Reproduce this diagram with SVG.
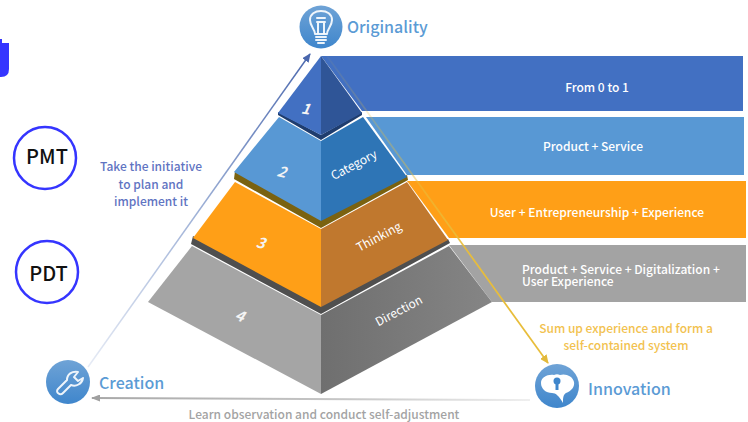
<svg xmlns="http://www.w3.org/2000/svg" width="748" height="422" viewBox="0 0 748 422">
<style>
text{font-family:"Noto Sans CJK SC","Noto Sans","Liberation Sans",sans-serif}
.bar{fill:#fff;font-size:12px;font-weight:500}
.mid{text-anchor:middle}
.head{fill:#5b9bd5;font-size:16px;font-weight:500}
.face{fill:#fff;font-size:12px}
.num{fill:#f4f4f4;font-size:15px;font-weight:700;font-style:italic;text-anchor:middle}
.ring{fill:#fff;stroke:#3535ff;stroke-width:2.5}
.tag{fill:#111;font-size:20px;font-weight:500;text-anchor:middle}
.ico{fill:none;stroke:#fff;stroke-width:2;stroke-linecap:round;stroke-linejoin:round;opacity:.9}
</style>
<defs>
<linearGradient id="bg" x1="0" y1="0" x2="0" y2="1"><stop offset="0" stop-color="#6fa3d6"/><stop offset="1" stop-color="#3f86cc"/></linearGradient>
<linearGradient id="g4" x1="0" y1="0" x2="1" y2="0"><stop offset="0" stop-color="#6f6f6f"/><stop offset="1" stop-color="#858585"/></linearGradient>
<linearGradient id="lb" gradientUnits="userSpaceOnUse" x1="88" y1="367" x2="310" y2="54"><stop offset="0" stop-color="#e6ebf5"/><stop offset=".5" stop-color="#9db0d6"/><stop offset="1" stop-color="#4a67ad"/></linearGradient>
<linearGradient id="lg" gradientUnits="userSpaceOnUse" x1="92" y1="398" x2="530" y2="400"><stop offset="0" stop-color="#a8a8a8"/><stop offset=".6" stop-color="#c8c8c8"/><stop offset="1" stop-color="#efefef"/></linearGradient>
<linearGradient id="ly" gradientUnits="userSpaceOnUse" x1="327" y1="56" x2="548" y2="363"><stop offset="0" stop-color="#e8bd3a" stop-opacity=".05"/><stop offset=".4" stop-color="#e8bd3a" stop-opacity=".45"/><stop offset=".65" stop-color="#e8bd3a"/><stop offset="1" stop-color="#e8bd3a"/></linearGradient>
<marker id="mb" markerUnits="userSpaceOnUse" markerWidth="9" markerHeight="8" refX="8" refY="4" orient="auto"><path d="M0 0L9 4L0 8Z" fill="#4a67ad"/></marker>
<marker id="my" markerUnits="userSpaceOnUse" markerWidth="9" markerHeight="8" refX="8" refY="4" orient="auto"><path d="M0 0L9 4L0 8Z" fill="#e2b93b"/></marker>
<marker id="mg" markerUnits="userSpaceOnUse" markerWidth="9" markerHeight="7" refX="8" refY="3.500" orient="auto"><path d="M0 0L9 3.500L0 7Z" fill="#a0a0a0"/></marker>
</defs>
<path id="corner" d="M0 39H2V43H9V69Q9 77 1 77H0Z" fill="#3535ff"/>

<g id="band-1"><path d="M321 56H743V111H362Z" fill="#4270c2"/><text class="bar mid" x="597" y="92">From 0 to 1</text></g>
<g id="band-2"><path d="M366 117H744V175H407Z" fill="#5898d4"/><text class="bar mid" x="593" y="151">Product + Service</text></g>
<g id="band-3"><path d="M407 181H746V238H449Z" fill="#ff9f17"/><text class="bar mid" x="597" y="217">User + Entrepreneurship + Experience</text></g>
<g id="band-4"><path d="M449 245H746V302H492Z" fill="#a3a3a3"/><text class="bar" x="522" y="273.500">Product + Service + Digitalization +</text><text class="bar" x="522" y="286">User Experience</text></g>

<g id="tier-4">
<path d="M192 246L321 315V394L148 302Z" fill="#a5a5a5"/>
<path d="M449 246L321 315V394L492 302Z" fill="url(#g4)"/>
<path d="M191 244L321 314L450 243L448 239L321 305L193 236Z" fill="#4f4f4f"/>
<text class="num" x="240" y="321" transform="rotate(20 240 316)">4</text>
<text class="face mid" x="399" y="315" transform="rotate(-28 399 311)">Direction</text>
</g>
<g id="tier-3">
<path d="M235 182L321 229V307L193 238Z" fill="#ff9f17"/>
<path d="M407 182L321 229V307L448 240Z" fill="#c0782e"/>
<path d="M234 179L321 228L408 180L407 175L321 219L235 171Z" fill="#7a6210"/>
<text class="num" x="261" y="248" transform="rotate(15 261 242)">3</text>
<text class="face mid" x="379" y="241" transform="rotate(-28 379 237)">Thinking</text>
</g>
<g id="tier-2">
<path d="M279 117L321 141V221L234 172Z" fill="#5898d4"/>
<path d="M363 117L321 141V221L407 177Z" fill="#2e75b6"/>
<path d="M278 115L321 140L362 115L362 112L321 135L278 112Z" fill="#1f3d6e"/>
<text class="num" x="282" y="177" transform="rotate(15 282 171)">2</text>
<text class="face mid" x="354" y="169" transform="rotate(-28 354 165)">Category</text>
</g>
<g id="tier-1">
<path d="M321 56L278 113L321 135Z" fill="#4270c2"/>
<path d="M321 56L362 113L321 135Z" fill="#2f5597"/>
<text class="num" x="306" y="114" transform="rotate(10 306 108)">1</text>
</g>

<g id="connectors" fill="none">
<path d="M88 367L310 54" stroke="url(#lb)" stroke-width="1.5" marker-end="url(#mb)"/>
<path d="M327 56L548 363" stroke="url(#ly)" stroke-width="1.7" marker-end="url(#my)"/>
<path d="M530 400L92 398" stroke="url(#lg)" stroke-width="2" marker-end="url(#mg)"/>
</g>

<g id="originality">
<circle cx="321" cy="27" r="21.500" fill="url(#bg)"/>
<path class="ico" d="M315 34C315 29 310 26 310 20C310 14 315 11 321 11C327 11 332 14 332 20C332 26 327 29 327 34Z"/>
<path class="ico" d="M317 18H325M317 22H325M318 22V33M324 22V33M316 37H326M316 40H326M318 43H324"/>
<text class="head" x="347" y="33">Originality</text>
</g>
<g id="creation">
<circle cx="68" cy="382" r="22" fill="url(#bg)"/>
<path class="ico" d="M58 389C55 392 60 396 63 393L71 385C76 387 82 384 83 378L78 381L74 377L78 372C72 371 67 374 67 380Z"/>
<text class="head" x="99" y="389">Creation</text>
</g>
<g id="innovation">
<circle cx="557" cy="386" r="22" fill="url(#bg)"/>
<path d="M554 375C548 374 541 377 541 383C541 389 546 393 552 393C556 393 559 396 563 403C563 398 563 395 566 393C571 391 575 387 574 382C573 376 565 373 560 375C558 374 556 374 554 375Z" fill="#fff"/>
<circle cx="557" cy="381" r="3.500" fill="#3f86cc"/><path d="M555.500 382H558.500V390H555.500Z" fill="#3f86cc"/>
<text class="head" x="588" y="395">Innovation</text>
</g>

<g id="pmt"><circle class="ring" cx="45" cy="158" r="31"/><text class="tag" x="47" y="164">PMT</text></g>
<g id="pdt"><circle class="ring" cx="47" cy="272" r="31"/><text class="tag" x="48.500" y="281">PDT</text></g>

<g id="label-initiative" fill="#5f74c2" font-size="12" font-weight="500" text-anchor="middle">
<text x="151" y="171">Take the initiative</text><text x="151" y="189">to plan and</text><text x="151" y="206">implement it</text>
</g>
<g id="label-sumup" fill="#f2c24f" font-size="12" font-weight="500" text-anchor="middle">
<text x="626" y="333">Sum up experience and form a</text><text x="626" y="350">self-contained system</text>
</g>
<text id="label-learn" x="324" y="419" fill="#a3a3a3" font-size="12" font-weight="500" text-anchor="middle">Learn observation and conduct self-adjustment</text>
</svg>
